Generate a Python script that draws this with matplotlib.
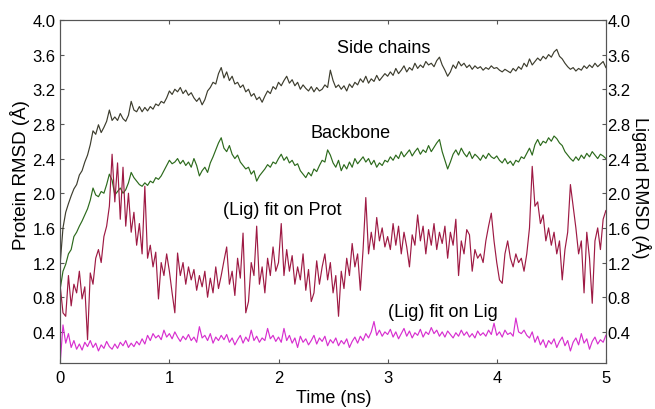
import numpy as np
import matplotlib
matplotlib.use('Agg')
import matplotlib.pyplot as plt

plt.rcParams['font.family'] = ['Liberation Sans', 'DejaVu Sans']

# time axis, 0.025 ns per frame
time_ns = np.linspace(0, 5, 201)

side_chains = [
    1.20, 1.60, 1.78, 1.88, 1.97, 2.05, 2.10, 2.21, 2.26, 2.36, 2.44, 2.56, 2.72, 2.68, 2.79, 2.70, 2.76, 2.83, 2.96, 2.84,
    2.88, 2.84, 2.92, 2.86, 2.83, 2.90, 3.06, 2.96, 2.94, 3.00, 2.94, 2.99, 2.95, 3.00, 2.97, 3.03, 3.01, 3.06, 3.04, 3.10,
    3.18, 3.14, 3.20, 3.17, 3.22, 3.15, 3.19, 3.13, 3.16, 3.10, 3.06, 3.10, 3.02, 3.08, 3.18, 3.22, 3.28, 3.26, 3.38, 3.45,
    3.33, 3.40, 3.30, 3.35, 3.26, 3.28, 3.22, 3.25, 3.17, 3.20, 3.12, 3.15, 3.08, 3.11, 3.05, 3.12, 3.18, 3.15, 3.23, 3.20,
    3.28, 3.24, 3.30, 3.35, 3.27, 3.31, 3.24, 3.28, 3.20, 3.25, 3.21, 3.18, 3.23, 3.17, 3.22, 3.18, 3.20, 3.25, 3.22, 3.42,
    3.30, 3.22, 3.25, 3.20, 3.24, 3.18, 3.26, 3.22, 3.28, 3.25, 3.32, 3.28, 3.35, 3.27, 3.32, 3.29, 3.36, 3.30, 3.34, 3.38,
    3.35, 3.40, 3.36, 3.44, 3.38, 3.42, 3.47, 3.40, 3.45, 3.42, 3.50, 3.44, 3.48, 3.45, 3.52, 3.48, 3.50, 3.46, 3.53, 3.57,
    3.48, 3.42, 3.35, 3.40, 3.48, 3.44, 3.52, 3.47, 3.50, 3.45, 3.48, 3.43, 3.47, 3.44, 3.46, 3.42, 3.45, 3.43, 3.47, 3.44,
    3.45, 3.42, 3.40, 3.43, 3.41, 3.39, 3.44, 3.41, 3.46, 3.43, 3.50, 3.46, 3.55, 3.48, 3.52, 3.56, 3.53, 3.58, 3.55, 3.60,
    3.57, 3.63, 3.66, 3.58, 3.55, 3.50, 3.46, 3.43, 3.45, 3.41, 3.44, 3.42, 3.47, 3.44, 3.48, 3.45, 3.50, 3.46, 3.49, 3.52,
    3.45,
]

backbone = [
    0.90, 1.10, 1.18, 1.30, 1.35, 1.50, 1.55, 1.62, 1.68, 1.75, 1.82, 1.92, 2.06, 1.98, 1.96, 2.02, 2.00, 2.10, 2.22, 2.15,
    1.98, 2.02, 2.06, 2.00, 2.04, 2.12, 2.24, 2.18, 2.14, 2.10, 2.08, 2.12, 2.09, 2.14, 2.12, 2.18, 2.16, 2.20, 2.26, 2.32,
    2.38, 2.34, 2.36, 2.40, 2.34, 2.38, 2.32, 2.36, 2.30, 2.40, 2.32, 2.20, 2.26, 2.30, 2.24, 2.35, 2.42, 2.50, 2.58, 2.64,
    2.52, 2.48, 2.55, 2.45, 2.40, 2.44, 2.36, 2.32, 2.28, 2.30, 2.22, 2.26, 2.14, 2.20, 2.24, 2.28, 2.33, 2.30, 2.36, 2.34,
    2.40, 2.45, 2.38, 2.42, 2.35, 2.38, 2.32, 2.34, 2.26, 2.22, 2.18, 2.24, 2.20, 2.28, 2.25, 2.32, 2.38, 2.36, 2.50, 2.44,
    2.35, 2.30, 2.38, 2.26, 2.33, 2.28, 2.36, 2.30, 2.40, 2.34, 2.38, 2.42, 2.36, 2.40, 2.33, 2.38, 2.30, 2.35, 2.32, 2.38,
    2.36, 2.42, 2.38, 2.44, 2.40, 2.48, 2.42, 2.46, 2.50, 2.43, 2.48, 2.52, 2.45, 2.50, 2.47, 2.55, 2.48, 2.53, 2.58, 2.62,
    2.48, 2.38, 2.28, 2.36, 2.45, 2.50, 2.44, 2.52, 2.46, 2.42, 2.48, 2.40, 2.45, 2.42, 2.38, 2.44, 2.40, 2.46, 2.42, 2.40,
    2.43, 2.38, 2.35, 2.40, 2.34, 2.37, 2.32, 2.38, 2.36, 2.42, 2.40, 2.46, 2.52, 2.44, 2.56, 2.62, 2.55, 2.60, 2.58, 2.64,
    2.60, 2.66, 2.63, 2.58, 2.55, 2.48, 2.44, 2.40, 2.37, 2.42, 2.38, 2.44, 2.40, 2.46, 2.42, 2.48, 2.44, 2.40, 2.45, 2.43,
    2.40,
]

lig_fit_prot = [
    0.92, 0.62, 0.58, 1.05, 0.70, 0.95, 0.85, 1.10, 0.78, 0.92, 0.31, 1.08, 0.95, 1.25, 1.35, 1.20, 1.50, 1.62, 1.85, 2.45,
    1.90, 2.35, 1.70, 2.30, 1.62, 2.00, 1.55, 1.78, 1.40, 1.65, 1.30, 2.08, 1.25, 1.40, 1.15, 1.32, 0.78, 1.20, 1.05, 1.30,
    1.10, 0.85, 0.62, 1.31, 1.05, 1.20, 0.95, 1.15, 1.00, 1.12, 0.88, 1.05, 0.92, 1.10, 0.80, 1.02, 0.85, 1.15, 0.90, 1.05,
    1.22, 1.38, 0.95, 1.10, 0.82, 1.25, 1.02, 1.54, 0.62, 0.75, 1.20, 1.05, 1.62, 0.95, 1.15, 0.85, 1.25, 1.05, 1.38, 1.10,
    1.20, 1.65, 1.05, 1.35, 1.10, 1.28, 0.95, 1.15, 1.00, 1.30, 0.88, 1.12, 0.75, 0.85, 1.22, 0.95, 1.15, 1.30, 1.00, 1.20,
    0.85, 1.05, 0.58, 1.10, 0.90, 1.25, 1.05, 1.42, 1.15, 1.30, 0.88, 1.35, 1.95, 1.30, 1.55, 1.35, 1.72, 1.45, 1.60, 1.38,
    1.50, 1.35, 1.65, 1.40, 1.62, 1.30, 1.55, 1.38, 1.15, 1.52, 1.40, 1.75, 1.45, 1.62, 1.30, 1.58, 1.40, 1.65, 1.35, 1.55,
    1.42, 1.62, 1.25, 1.55, 1.40, 1.70, 1.05, 1.45, 1.30, 1.58, 1.52, 1.10, 1.35, 1.25, 1.30, 1.20, 1.45, 1.62, 1.77, 1.45,
    1.20, 1.00, 0.96, 1.30, 1.45, 1.25, 1.15, 1.30, 1.20, 1.25, 1.10, 1.30, 1.60, 2.31, 1.85, 1.90, 1.65, 1.75, 1.45, 1.60,
    1.40, 1.55, 1.30, 1.45, 1.00, 1.35, 1.55, 2.10, 1.85, 1.60, 1.30, 1.45, 0.85, 1.55, 1.25, 0.73, 1.45, 1.60, 1.35, 1.70,
    1.80,
]

lig_fit_lig = [
    0.05, 0.48, 0.27, 0.38, 0.22, 0.30, 0.20, 0.26, 0.19, 0.28, 0.23, 0.30, 0.22, 0.27, 0.18, 0.25, 0.21, 0.29, 0.23, 0.20,
    0.26, 0.21, 0.28, 0.24, 0.30, 0.22, 0.27, 0.23, 0.29, 0.25, 0.32, 0.26, 0.36, 0.30, 0.38, 0.33, 0.36, 0.31, 0.42, 0.34,
    0.38, 0.32, 0.40, 0.34, 0.29, 0.35, 0.31, 0.37, 0.30, 0.34, 0.28, 0.46, 0.33, 0.36, 0.30, 0.38, 0.27, 0.34, 0.30, 0.36,
    0.31, 0.37, 0.28, 0.33, 0.25, 0.31, 0.36, 0.27, 0.34, 0.29, 0.42, 0.30, 0.35, 0.28, 0.33, 0.30, 0.44, 0.32, 0.36, 0.29,
    0.34, 0.28, 0.44, 0.30, 0.36, 0.27, 0.33, 0.22, 0.35, 0.28, 0.32, 0.25, 0.30, 0.36, 0.26, 0.33, 0.29, 0.35, 0.24, 0.31,
    0.27, 0.33, 0.24, 0.30, 0.26, 0.32, 0.22, 0.29, 0.34, 0.27, 0.35, 0.30, 0.38, 0.33, 0.40, 0.52, 0.36, 0.42, 0.35, 0.40,
    0.37, 0.43, 0.34, 0.40, 0.32, 0.38, 0.44, 0.35, 0.41, 0.33, 0.39, 0.36, 0.43, 0.34, 0.40, 0.37, 0.45, 0.38, 0.42, 0.35,
    0.40, 0.34, 0.41, 0.37, 0.33, 0.39, 0.35, 0.42, 0.36, 0.40, 0.34, 0.38, 0.33, 0.41, 0.36, 0.39, 0.35, 0.42, 0.37, 0.50,
    0.36, 0.40, 0.34, 0.42, 0.37, 0.39, 0.35, 0.56, 0.40, 0.38, 0.42, 0.36, 0.33, 0.40, 0.28, 0.35, 0.25, 0.31, 0.22, 0.30,
    0.26, 0.32, 0.22, 0.29, 0.34, 0.24, 0.30, 0.18, 0.28, 0.33, 0.25, 0.38, 0.27, 0.32, 0.20, 0.29, 0.34, 0.26, 0.31, 0.28,
    0.36,
]

y_ticks = [0.4, 0.8, 1.2, 1.6, 2.0, 2.4, 2.8, 3.2, 3.6, 4.0]
x_ticks = [0, 1, 2, 3, 4, 5]

fig = plt.figure(figsize=(6.55, 4.1), dpi=100)
ax = fig.add_axes([0.092, 0.112, 0.833, 0.837])

ax.plot(time_ns, side_chains, color='#3d3d2e', lw=0.85)
ax.plot(time_ns, backbone, color='#2c6a1c', lw=0.85)
ax.plot(time_ns, lig_fit_prot, color='#9e1a44', lw=0.85)
ax.plot(time_ns, lig_fit_lig, color='#d72fcf', lw=0.85)

ax.set_xlim(0, 5)
ax.set_ylim(0.04, 4.0)
ax.set_xticks(x_ticks)
ax.set_xticklabels([str(t) for t in x_ticks])
ax.set_yticks(y_ticks)
ax.set_yticklabels(['%.1f' % v for v in y_ticks])
ax.tick_params(direction='in', length=3, labelsize=12, top=True, color='#555555')
ax.tick_params(axis='y', pad=3.5)
ax.tick_params(axis='x', pad=5)
ax.set_xlabel('Time (ns)', fontsize=13, va='center')
ax.xaxis.set_label_coords(0.502, -0.099)
ax.set_ylabel('Protein RMSD (Å)', fontsize=13.5, va='center')
ax.yaxis.set_label_coords(-0.073, 0.551)
for s in ax.spines.values():
    s.set_color('#555555')

ax2 = ax.twinx()
ax2.set_ylim(0.04, 4.0)
ax2.set_yticks(y_ticks)
ax2.set_yticklabels(['%.1f' % v for v in y_ticks])
ax2.tick_params(direction='in', length=3, labelsize=12, pad=1, color='#555555')
ax2.set_ylabel('Ligand RMSD (Å)', fontsize=13, rotation=-90, va='center')
ax2.yaxis.set_label_coords(1.065, 0.513)
for s in ax2.spines.values():
    s.set_color('#555555')

ax.text(2.96, 3.68, 'Side chains', fontsize=13, ha='center', va='center')
ax.text(2.66, 2.70, 'Backbone', fontsize=13, ha='center', va='center')
ax.text(2.03, 1.81, '(Lig) fit on Prot', fontsize=13, ha='center', va='center')
ax.text(3.51, 0.64, '(Lig) fit on Lig', fontsize=13, ha='center', va='center')

fig.savefig('out.png', dpi=100)
